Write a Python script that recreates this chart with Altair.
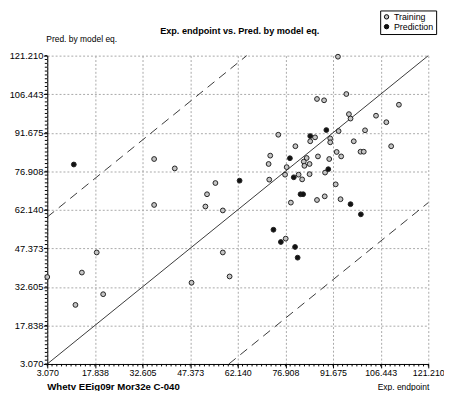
import altair as alt
import pandas as pd

# ---- data ----
train_x = [93.2, 86.7, 88.9, 95.8, 112.1, 96.6, 97.1, 105.0, 108.2, 101.6,
           93.4, 74.7, 86.1, 84.6, 90.8, 90.8, 98.1, 109.7, 80.0, 100.2,
           101.2, 92.8, 94.2, 72.2, 83.5, 87.0, 90.5, 71.7, 82.6, 84.4,
           82.8, 77.3, 89.2, 81.0, 84.4, 76.8, 82.1, 71.9, 92.5, 55.2,
           89.1, 86.7, 94.0, 78.6, 57.5, 36.2, 42.6, 52.6, 36.2, 52.1,
           18.4, 13.8, 3.07, 11.8, 20.4, 47.8, 57.5, 59.6, 77.0]
train_y = [120.8, 104.6, 104.1, 106.5, 102.4, 98.8, 97.1, 98.2, 95.7, 92.6,
           92.3, 90.9, 89.9, 88.4, 89.5, 88.0, 88.4, 86.5, 86.5, 84.4,
           84.4, 84.3, 82.6, 82.9, 82.0, 82.6, 81.6, 79.7, 80.6, 79.7,
           79.0, 78.5, 76.4, 75.6, 75.8, 75.6, 73.8, 73.7, 71.9, 72.4,
           67.3, 65.9, 66.2, 64.9, 61.9, 81.6, 78.0, 68.1, 64.0, 63.4,
           45.8, 38.1, 36.4, 25.7, 29.8, 34.2, 45.8, 36.6, 51.1]
pred_x = [89.6, 84.6, 78.3, 90.2, 79.5, 62.7, 81.6, 82.4, 97.1, 100.3,
          11.3, 73.2, 75.5, 79.9, 80.7]
pred_y = [92.7, 90.4, 81.9, 77.7, 74.6, 73.3, 68.1, 68.1, 64.3, 60.4,
          79.5, 54.5, 49.8, 47.9, 43.8]

tick_vals = [3.070, 17.838, 32.605, 47.373, 62.140, 76.908, 91.675, 106.443, 121.210]
lo, hi = 3.070, 121.210
band = 56.3
series_names = ["Training", "Prediction"]
series_fill = ["#c4c4c4", "#111111"]

title_text = "Exp. endpoint vs. Pred. by model eq."
y_title = "Pred. by model eq."
x_title = "Exp. endpoint"
desc_text = "Whetv EEig09r Mor32e C-040"

W, H = 388, 314

# ---- tables ----
pts = pd.DataFrame({
    "x": train_x + pred_x,
    "y": train_y + pred_y,
    "set": [series_names[0]] * len(train_x) + [series_names[1]] * len(pred_x),
})
diag = pd.DataFrame({"x": [lo, hi], "y": [lo, hi]})
dashed = pd.DataFrame({
    "x": [lo, hi - band, lo + band, hi],
    "y": [lo + band, hi, lo, hi - band],
    "g": ["up", "up", "dn", "dn"],
})
step = (hi - lo) / 8 / 10
minor = pd.DataFrame({"v": [lo + i * step for i in range(81)],
                      "w": [lo + i * step for i in range(81)]})

xs = alt.Scale(domain=[lo, hi], nice=False, zero=False)
ys = alt.Scale(domain=[lo, hi], nice=False, zero=False)

grid_kw = dict(grid=True, gridColor="#a8a8a8", gridDash=[2, 2], gridWidth=1,
               domainColor="black", tickColor="black", labelColor="black",
               labelFlush=False, labelOverlap=False, title=None, format=".3f")

x_axis = alt.Axis(values=tick_vals, labelFont="Liberation Sans", labelFontSize=9,
                  tickSize=4, labelPadding=1, **grid_kw)
y_axis = alt.Axis(values=tick_vals, labelFont="Liberation Sans", labelFontSize=9.5,
                  tickSize=4, labelPadding=0.5, **grid_kw)


def X(f):
    return alt.X(f, scale=xs, axis=x_axis)


def Y(f):
    return alt.Y(f, scale=ys, axis=y_axis)


base_pts = alt.Chart(pts).mark_point(filled=True, size=24, stroke="#222222",
                                     strokeWidth=1, opacity=1).encode(
    x=X("x:Q"),
    y=Y("y:Q"),
    color=alt.Color("set:N",
                    scale=alt.Scale(domain=series_names, range=series_fill),
                    legend=alt.Legend(title=None, orient="none", legendX=339, legendY=-46,
                                      strokeColor="black", fillColor="white", padding=2,
                                      labelFont="Liberation Sans", labelFontSize=9,
                                      labelColor="black",
                                      symbolSize=20, symbolType="circle",
                                      symbolStrokeColor="black", symbolStrokeWidth=1,
                                      rowPadding=0, labelOffset=3, symbolOffset=0)),
)

diag_line = alt.Chart(diag).mark_line(color="#222222", strokeWidth=0.9).encode(
    x=X("x:Q"), y=Y("y:Q"),
)
dash_line = alt.Chart(dashed).mark_line(color="#222222", strokeWidth=0.9,
                                        strokeDash=[9, 6]).encode(
    x=X("x:Q"), y=Y("y:Q"), detail="g:N",
)
minor_x = alt.Chart(minor).mark_rule(color="black", strokeWidth=1).encode(
    x=X("v:Q"),
    y=alt.value(H),
    y2=alt.value(H + 2.5),
)
minor_y = alt.Chart(minor).mark_rule(color="black", strokeWidth=1).encode(
    y=Y("w:Q"),
    x=alt.value(-2.5),
    x2=alt.value(0),
)


def txt(s, x, y, align="left", bold=False, size=9):
    return alt.Chart(pd.DataFrame({"t": [s]})).mark_text(
        align=align, baseline="alphabetic", font="Liberation Sans", fontSize=size,
        fontWeight="bold" if bold else "normal", color="black").encode(
        text="t:N", x=alt.value(x), y=alt.value(y))


texts = (txt(title_text, 196, -22, "center", True, 9.3)
         + txt(y_title, -1, -14, "left", False, 8.6)
         + txt(desc_text, 0, 341, "left", True, 9.8)
         + txt(x_title, 389, 341, "right", False, 8.6))

chart = alt.layer(minor_x, minor_y, diag_line, dash_line, base_pts, texts).properties(
    width=W, height=H,
    padding={"left": 40, "top": 45, "right": 16, "bottom": 24},
    autosize=alt.AutoSizeParams(type="none"),
    background="white",
).configure_view(stroke=None)

chart.save("out.html", embed_options={"renderer": "svg", "actions": False})
